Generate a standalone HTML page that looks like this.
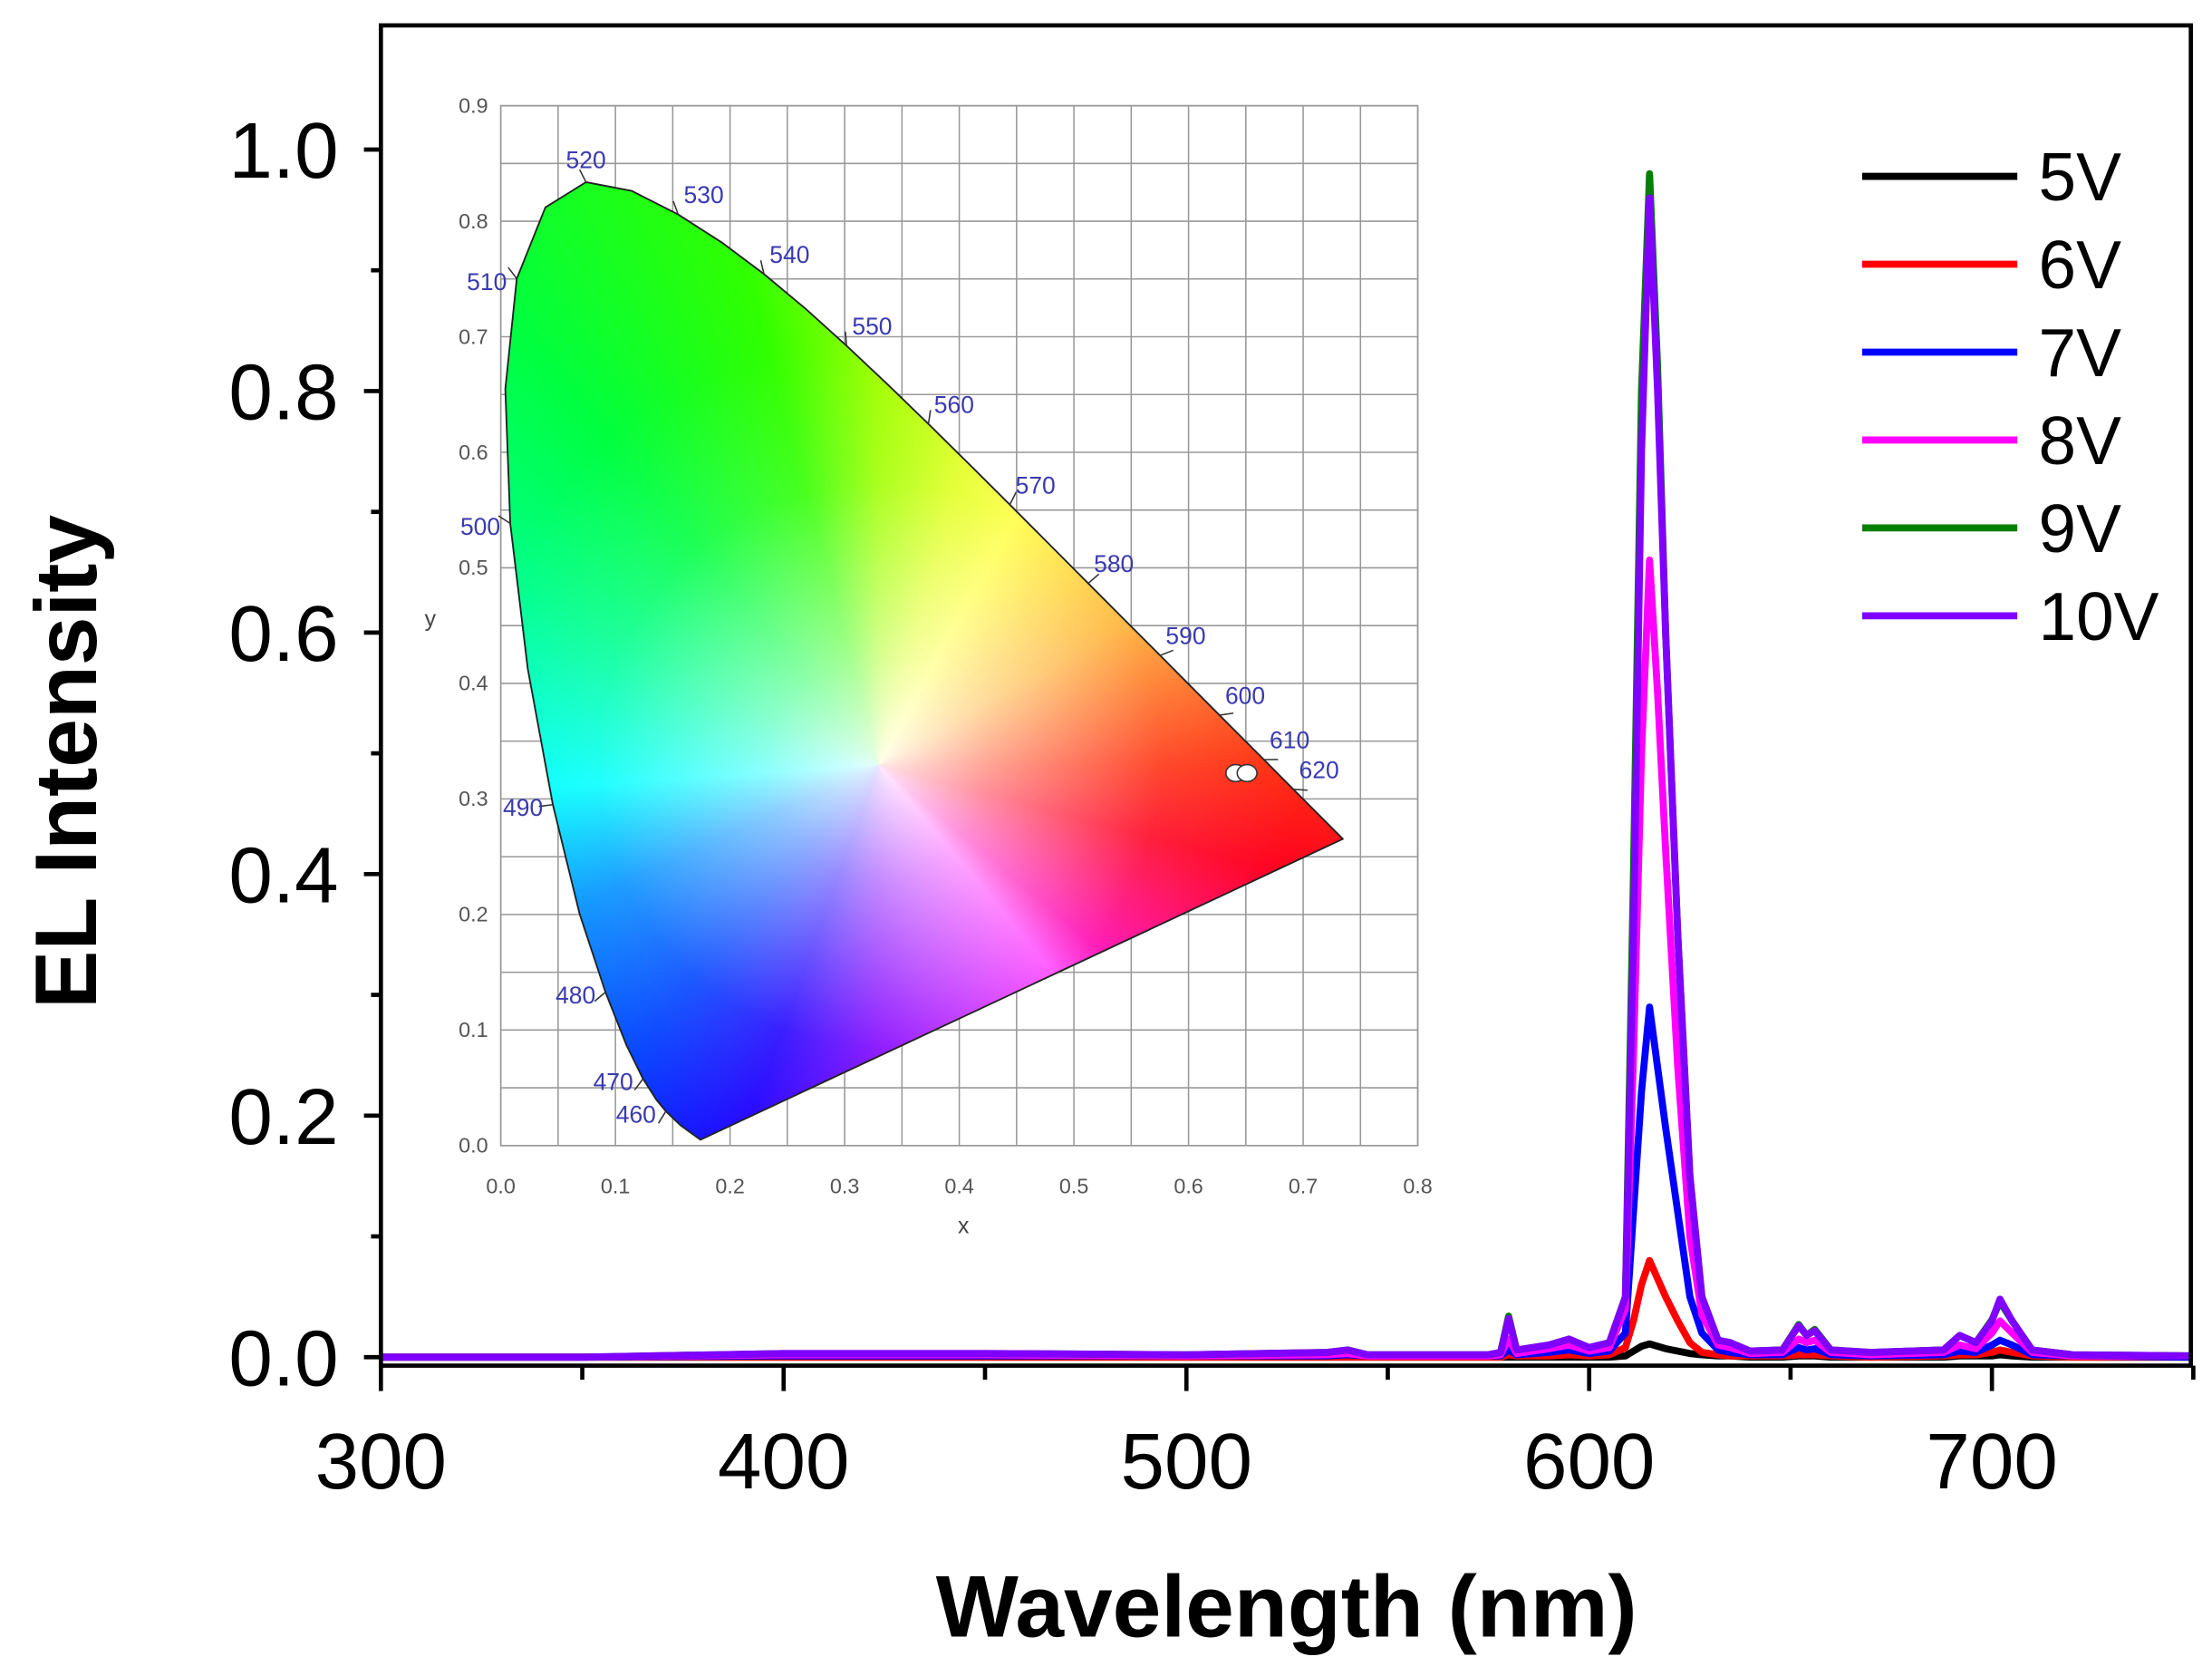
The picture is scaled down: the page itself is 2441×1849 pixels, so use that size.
<!DOCTYPE html>
<html><head><meta charset="utf-8">
<style>
html,body{margin:0;padding:0;background:#fff;}
svg{display:block;font-family:"Liberation Sans",Arial,sans-serif;}
</style></head>
<body>
<svg id="chart" width="2441" height="1849" viewBox="0 0 1568 1188" preserveAspectRatio="none" xmlns="http://www.w3.org/2000/svg">
<defs>
 <clipPath id="locusClip" clipPathUnits="userSpaceOnUse"><polygon id="locusClipPoly" points=""/></clipPath>
 <clipPath id="plotClip"><rect x="270" y="18" width="1283" height="950"/></clipPath>
</defs>
<rect x="0" y="0" width="1568" height="1188" fill="#fff"/>
<g id="inset">
 <rect x="355" y="75" width="650" height="737" fill="#fff" stroke="#888" stroke-width="1"/>
 <g id="insetGrid"></g>
 <g clip-path="url(#locusClip)">
 <foreignObject x="355" y="75" width="650" height="737">
  <div xmlns="http://www.w3.org/1999/xhtml" style="width:650px;height:737px;position:relative;background:conic-gradient(from 0deg at 268px 467px,#a0ff00 0deg,#e0ff20 15deg,#ffff40 29deg,#ffb030 60deg,#ff3010 90deg,#ff0020 105deg,#ff00b0 130deg,#ff40ff 140deg,#8000ff 180deg,#2000ff 200deg,#0040ff 220deg,#0090ff 245deg,#00ffff 266deg,#00ff90 295deg,#00ff40 320deg,#30ff00 345deg,#a0ff00 360deg);">
   <div style="position:absolute;left:0;top:0;width:650px;height:737px;background:radial-gradient(circle at 268px 467px,rgba(255,255,255,0.9) 0px,rgba(255,255,255,0.55) 80px,rgba(255,255,255,0.12) 200px,rgba(255,255,255,0) 300px);"></div>
  </div>
 </foreignObject>
 </g>
 <polygon id="locusOutline" points="" fill="none" stroke="#222" stroke-width="1.2" stroke-linejoin="round"/>
 <g id="locusLabels"></g>
 <g id="insetTicks"></g>
 <ellipse cx="876" cy="548" rx="7" ry="6" fill="#fff" stroke="#333" stroke-width="1"/>
 <ellipse cx="884" cy="548" rx="7" ry="6" fill="#fff" stroke="#333" stroke-width="1"/>
 <text x="683" y="874" font-size="16" fill="#444" text-anchor="middle">x</text>
 <text x="305" y="444" font-size="16" fill="#444" text-anchor="middle">y</text>
</g>
<g id="series" clip-path="url(#plotClip)"></g>
<g id="axes"></g>
<g id="legend"></g>
<text x="912" y="1160" font-size="62" font-weight="bold" text-anchor="middle" fill="#000">Wavelength (nm)</text>
<text transform="translate(68,540) rotate(-90)" font-size="62" font-weight="bold" text-anchor="middle" fill="#000">EL Intensity</text>
</svg>
<script>
// ---- data ----
const wavelengths=[300,350,400,450,500,535,540,545,575,578,580,582,590,595,600,605,609,611,613,615,617,619,622,625,628,632,635,640,648,652,654,656,660,670,688,692,696,700,702,705,710,720,750];
const v5=[0,0,0,0,0,0,0,0,0,0,0,0,0,0,0,0,0.001,0.005,0.009,0.011,0.009,0.007,0.005,0.003,0.002,0.001,0.001,0,0,0.001,0.001,0.001,0,0,0,0.001,0.001,0.001,0.002,0.001,0,0,0];
const v6=[0,0,0,0,0,0,0,0,0,0,0.002,0.001,0.001,0.002,0.001,0.002,0.008,0.03,0.06,0.08,0.065,0.05,0.03,0.012,0.004,0.002,0.001,0.001,0.001,0.002,0.002,0.002,0.001,0,0.001,0.002,0.002,0.004,0.006,0.004,0.001,0,0];
const v7=[0,0,0.001,0.001,0.001,0.001,0.002,0.001,0.001,0.001,0.006,0.002,0.004,0.006,0.003,0.005,0.02,0.12,0.22,0.29,0.24,0.19,0.12,0.05,0.02,0.006,0.004,0.002,0.002,0.008,0.006,0.007,0.002,0.001,0.002,0.005,0.004,0.01,0.014,0.01,0.002,0.001,0];
const v8=[0,0,0.002,0.002,0.001,0.002,0.003,0.001,0.001,0.002,0.015,0.003,0.007,0.01,0.005,0.008,0.04,0.25,0.5,0.66,0.55,0.42,0.24,0.1,0.035,0.01,0.008,0.003,0.004,0.015,0.012,0.014,0.004,0.002,0.004,0.01,0.007,0.02,0.03,0.02,0.004,0.001,0.001];
const v9=[0,0,0.003,0.003,0.002,0.004,0.006,0.002,0.002,0.004,0.034,0.006,0.01,0.015,0.008,0.012,0.05,0.4,0.8,0.98,0.82,0.6,0.35,0.15,0.05,0.014,0.012,0.005,0.006,0.027,0.018,0.023,0.006,0.004,0.006,0.018,0.012,0.031,0.046,0.03,0.006,0.002,0.001];
const v10=[0,0,0.003,0.003,0.002,0.004,0.006,0.002,0.002,0.004,0.032,0.006,0.01,0.015,0.008,0.012,0.05,0.35,0.75,0.96,0.8,0.6,0.35,0.15,0.05,0.014,0.012,0.005,0.006,0.026,0.018,0.022,0.006,0.004,0.006,0.018,0.012,0.03,0.048,0.03,0.006,0.002,0.001];
const seriesNames=["5V","6V","7V","8V","9V","10V"];
const seriesColors=["#000000","#ff0000","#0000ff","#ff00ff","#007f00","#8000ff"];
const xTicks=[300,400,500,600,700];
const yTicks=[0.0,0.2,0.4,0.6,0.8,1.0];
// CIE 1931 spectral locus
const locusNm=[380,450,460,465,470,475,480,485,490,495,500,505,510,515,520,525,530,535,540,545,550,555,560,565,570,575,580,585,590,595,600,605,610,620,630,640,700];
const locusX=[0.1741,0.1566,0.1440,0.1355,0.1241,0.1096,0.0913,0.0687,0.0454,0.0235,0.0082,0.0039,0.0139,0.0389,0.0743,0.1142,0.1547,0.1929,0.2296,0.2658,0.3016,0.3373,0.3731,0.4087,0.4441,0.4788,0.5125,0.5448,0.5752,0.6029,0.6270,0.6482,0.6658,0.6915,0.7079,0.7190,0.7347];
const locusY=[0.0050,0.0177,0.0297,0.0399,0.0578,0.0868,0.1327,0.2007,0.2950,0.4127,0.5384,0.6548,0.7502,0.8120,0.8338,0.8262,0.8059,0.7816,0.7543,0.7243,0.6923,0.6589,0.6245,0.5896,0.5547,0.5202,0.4866,0.4544,0.4242,0.3965,0.3725,0.3514,0.3340,0.3083,0.2920,0.2809,0.2653];
const labelNm=[460,470,480,490,500,510,520,530,540,550,560,570,580,590,600,610,620];
const insetXTicks=[0,0.1,0.2,0.3,0.4,0.5,0.6,0.7,0.8];
const insetYTicks=[0,0.1,0.2,0.3,0.4,0.5,0.6,0.7,0.8,0.9];

const NS="http://www.w3.org/2000/svg";
function mk(tag,attrs,parent){const e=document.createElementNS(NS,tag);for(const k in attrs)e.setAttribute(k,attrs[k]);parent.appendChild(e);return e;}
const xs=w=>270+(w-300)*2.855;
const ys=v=>962-v*856;
const ix=x=>355+x*812.5;
const iy=y=>812-y*819;

const grid=document.getElementById('insetGrid');
for(let i=0;i<=16;i++){const l=mk('line',{x1:ix(i*0.05),x2:ix(i*0.05),y1:75,y2:812,stroke:'#999','stroke-width':1},grid);

}
for(let i=0;i<=18;i++){const l=mk('line',{x1:355,x2:1005,y1:iy(i*0.05),y2:iy(i*0.05),stroke:'#999','stroke-width':1},grid);

}
const it=document.getElementById('insetTicks');
insetXTicks.forEach(v=>{const t=mk('text',{x:ix(v),y:846,'font-size':15,fill:'#555','text-anchor':'middle'},it);t.textContent=v.toFixed(1);

});
insetYTicks.forEach(v=>{const t=mk('text',{x:346,y:iy(v)+5,'font-size':15,fill:'#555','text-anchor':'end'},it);t.textContent=v.toFixed(1);

});

const pts=locusX.map((x,i)=>ix(x).toFixed(1)+','+iy(locusY[i]).toFixed(1)).join(' ');
document.getElementById('locusClipPoly').setAttribute('points',pts);
document.getElementById('locusOutline').setAttribute('points',pts);
const ll=document.getElementById('locusLabels');
const cx=ix(0.33),cy=iy(0.33);
labelNm.forEach(nm=>{const i=locusNm.indexOf(nm);const px=ix(locusX[i]),py=iy(locusY[i]);
 let dx=px-cx,dy=py-cy;const d=Math.hypot(dx,dy);dx/=d;dy/=d;
 const tk=mk('line',{x1:px,y1:py,x2:px+dx*10,y2:py+dy*10,stroke:'#333','stroke-width':1},ll);
 
 
 let tx,ty,anc;
 if(nm<=510){tx=px-7;ty=py+8;anc='end';}
 else if(nm===520){tx=px;ty=py-10;anc='middle';}
 else {tx=px+4;ty=py-8;anc='start';}
 const t=mk('text',{x:tx,y:ty,'font-size':17,fill:'#3a3ab0','text-anchor':anc},ll);t.textContent=nm;
 
 });

const sg=document.getElementById('series');
[v5,v6,v7,v8,v9,v10].forEach((arr,si)=>{
 const d=arr.map((v,i)=>(i?'L':'M')+xs(wavelengths[i]).toFixed(1)+','+ys(v).toFixed(1)).join('');
 const p=mk('path',{d:d,fill:'none',stroke:seriesColors[si],'stroke-width':5,'stroke-linejoin':'round'},sg);
 
 
});

const ax=document.getElementById('axes');
const fr=mk('rect',{x:270,y:18,width:1283,height:950,fill:'none',stroke:'#000','stroke-width':3},ax);


for(let w=300;w<=750;w+=50){const major=w%100===0;
 const l=mk('line',{x1:xs(w),x2:xs(w),y1:968,y2:major?986:978,stroke:'#000','stroke-width':3},ax);
 
 }
xTicks.forEach(w=>{const t=mk('text',{x:xs(w),y:1055,'font-size':56,'text-anchor':'middle',fill:'#000'},ax);t.textContent=w;
 
 });
for(let k=0;k<=10;k++){const v=k*0.1;const major=k%2===0;
 const l=mk('line',{x1:major?258:263,x2:270,y1:ys(v),y2:ys(v),stroke:'#000','stroke-width':3},ax);
 
 }
yTicks.forEach(v=>{const t=mk('text',{x:240,y:ys(v)+20,'font-size':56,'text-anchor':'end',fill:'#000'},ax);t.textContent=v.toFixed(1);
 
 });

const lg=document.getElementById('legend');
seriesNames.forEach((n,i)=>{const y=125+i*62.3;
 const l=mk('line',{x1:1320,x2:1430,y1:y,y2:y,stroke:seriesColors[i],'stroke-width':5},lg);
 
 
 const t=mk('text',{x:1445,y:y+17,'font-size':48,fill:'#000'},lg);t.textContent=n;
 
 });
</script>
</body></html>
